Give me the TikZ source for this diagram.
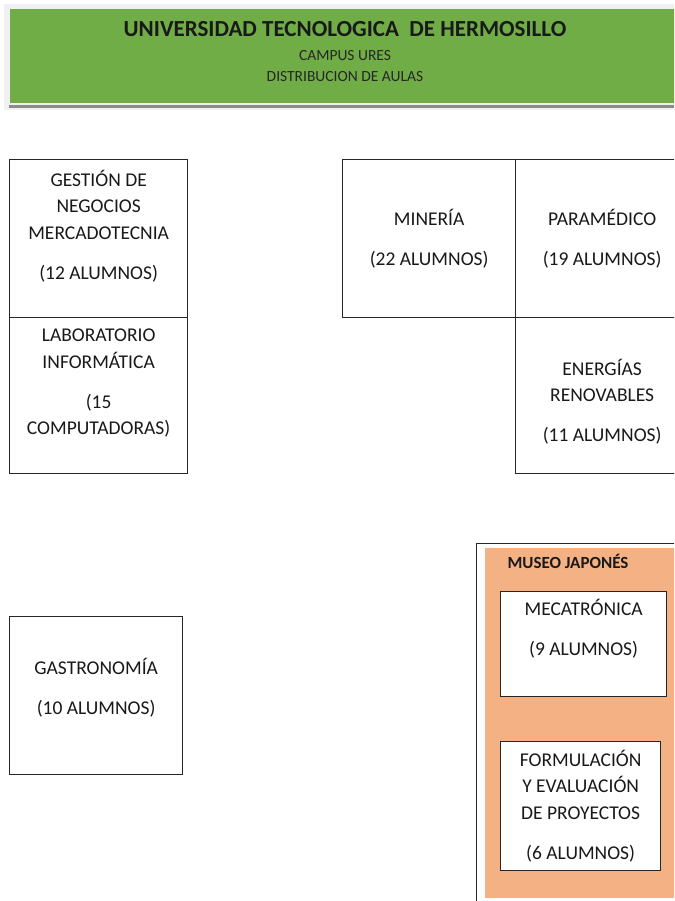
\documentclass[tikz,border=0pt]{standalone}
\usepackage{fontspec}
\setmainfont{Carlito}
\usetikzlibrary{calc}
\definecolor{verdeutth}{RGB}{112,173,71}
\definecolor{naranjamuseo}{RGB}{244,177,131}
\newcommand{\fuenteaula}{\fontsize{19.5}{26.5}\selectfont}
\newcommand{\fuentetitulo}{\fontsize{23}{26}\selectfont\bfseries}
\newcommand{\fuentesub}{\fontsize{15.5}{18}\selectfont}

\begin{document}
\begin{tikzpicture}[x=1pt,y=-1pt] %% distribucion de aulas
	\tikzstyle{aula}=[rectangle,draw=black!85,line width=1.3pt,fill=white,inner sep=0pt,anchor=north west];
	\tikzstyle{texto}=[align=center,font=\fuenteaula,text=black!90,inner sep=0pt];
	\clip (0,0) rectangle (674,901);
	%% encabezado
	\fill[black!6] (4,4) rectangle (690,110);
	\fill[black!45] (9,105.5) rectangle (690,108.5);
	\node[rectangle,fill=verdeutth,inner sep=0pt,anchor=north west,minimum width=680pt,minimum height=94pt] (encabezado) at (10,9) {};
	\node[font=\fuentetitulo,text=black!90] (titulo) at (345,29) {UNIVERSIDAD TECNOLOGICA\hspace{0.45em}DE HERMOSILLO};
	\node[font=\fuentesub,text=black!85] (campus) at (345,56) {CAMPUS URES};
	\node[font=\fuentesub,text=black!85] (distribucion) at (345,77) {DISTRIBUCION DE AULAS};
	%% edificio izquierdo
	\node[aula,minimum width=178pt,minimum height=158pt] (gestion) at (9,159) {};
	\node[texto] (gestionT) at ([yshift=12.5pt]gestion.center) {GESTIÓN DE\\NEGOCIOS\\MERCADOTECNIA\\[13.5pt](12 ALUMNOS)};
	\node[aula,minimum width=178pt,minimum height=156pt] (laboratorio) at (9,317) {};
	\node[texto] (laboratorioT) at ([yshift=12.5pt]laboratorio.center) {LABORATORIO\\INFORMÁTICA\\[13.5pt](15\\COMPUTADORAS)};
	%% edificio derecho
	\node[aula,minimum width=173pt,minimum height=158pt] (mineria) at (342,159) {};
	\node[texto] (mineriaT) at (mineria.center) {MINERÍA\\[13.5pt](22 ALUMNOS)};
	\node[aula,minimum width=173pt,minimum height=158pt] (paramedico) at (515,159) {};
	\node[texto] (paramedicoT) at (paramedico.center) {PARAMÉDICO\\[13.5pt](19 ALUMNOS)};
	\node[aula,minimum width=173pt,minimum height=156pt] (energias) at (515,317) {};
	\node[texto] (energiasT) at ([yshift=-6pt]energias.center) {ENERGÍAS\\RENOVABLES\\[13.5pt](11 ALUMNOS)};
	%% gastronomia
	\node[aula,minimum width=173pt,minimum height=158pt] (gastronomia) at (9,616) {};
	\node[texto] (gastronomiaT) at ([yshift=7.5pt]gastronomia.center) {GASTRONOMÍA\\[13.5pt](10 ALUMNOS)};
	%% museo japones
	\node[aula,minimum width=220pt,minimum height=380pt] (museo) at (476,543) {};
	\fill[naranjamuseo] (485,548) rectangle (696,898);
	\node[font=\fontsize{17}{20}\selectfont\bfseries,text=black!90] (museoT) at (568,561) {MUSEO JAPONÉS};
	\node[aula,minimum width=166pt,minimum height=105pt] (mecatronica) at (500,591) {};
	\node[texto] (mecatronicaT) at ([yshift=15pt]mecatronica.center) {MECATRÓNICA\\[13.5pt](9 ALUMNOS)};
	\node[aula,minimum width=160pt,minimum height=129pt] (proyectos) at (500,741) {};
	\node[texto] (proyectosT) at (proyectos.center) {FORMULACIÓN\\Y EVALUACIÓN\\DE PROYECTOS\\[13.5pt](6 ALUMNOS)};
\end{tikzpicture}
\end{document}
